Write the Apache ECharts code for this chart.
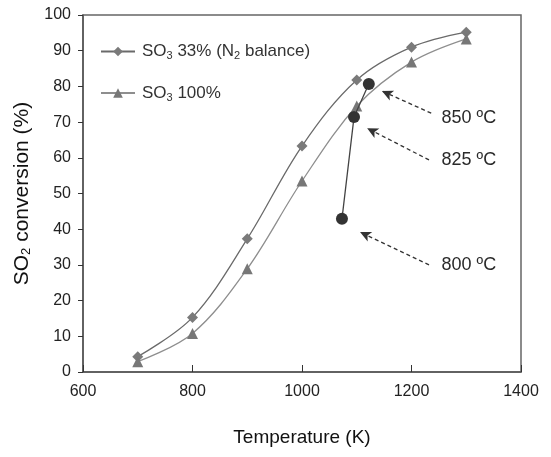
<!DOCTYPE html>
<html>
<head>
<meta charset="utf-8">
<script src="https://cdn.jsdelivr.net/npm/echarts@6/dist/echarts.min.js"></script>
<style>html,body{margin:0;padding:0;background:#fff;}#c{width:551px;height:457px;}</style>
</head>
<body>
<div id="c"></div>
<script>
// ---- data ----
const temps = [700, 800, 900, 1000, 1100, 1200, 1300];
const so3_33 = [4.3, 15.3, 37.3, 63.3, 81.8, 91.0, 95.2];
const so3_100 = [2.9, 10.8, 28.9, 53.5, 74.5, 86.8, 93.3];
const expTemps = [1073, 1095, 1122];
const expConv = [42.9, 71.4, 80.7];
const seriesNames = ['SO3 33% (N2 balance)', 'SO3 100%'];
const legendLabels = ['{n|SO}{s|3}{n| 33% (N}{s|2}{n| balance)}', '{n|SO}{s|3}{n| 100%}'];
const noteLabels = ['850 ºC', '825 ºC', '800 ºC'];
// arrow tail -> tip, in data units
const arrowTail = [[1236, 72.5], [1232, 59.4], [1232, 30.0]];
const arrowTip = [[1146, 78.7], [1119, 68.3], [1106, 39.2]];
const notePos = [[1254, 71.1], [1254, 59.4], [1254, 30.0]];
const xTicks = [600, 800, 1000, 1200, 1400];
const yTicks = [0, 10, 20, 30, 40, 50, 60, 70, 80, 90, 100];

const font = 'Liberation Sans, Arial, sans-serif';
const chart = echarts.init(document.getElementById('c'), null, {renderer: 'canvas'});
const zip = (a, b) => a.map((v, i) => [v, b[i]]);

chart.setOption({
  animation: false,
  backgroundColor: '#fff',
  textStyle: {fontFamily: font},
  grid: {left: 83, top: 15, right: 30, bottom: 85, show: true, borderColor: '#666', borderWidth: 1.5, backgroundColor: 'transparent'},
  legend: {
    data: seriesNames,
    orient: 'vertical',
    left: 100, top: 43, padding: 0,
    itemWidth: 34, itemHeight: 12, itemGap: 23,
    formatter: name => legendLabels[seriesNames.indexOf(name)],
    textStyle: {
      fontFamily: font, color: '#333', padding: [0, 0, 0, 2],
      rich: {
        n: {fontSize: 17, lineHeight: 20, color: '#333', fontFamily: font},
        s: {fontSize: 11, lineHeight: 20, color: '#333', fontFamily: font, verticalAlign: 'bottom', padding: [7, 0, 0, 0]}
      }
    }
  },
  xAxis: {
    type: 'value', min: xTicks[0], max: xTicks[xTicks.length - 1], interval: 200,
    name: 'Temperature (K)', nameLocation: 'middle', nameGap: 56,
    nameTextStyle: {fontSize: 19, color: '#111', fontFamily: font},
    axisLine: {show: true, lineStyle: {color: '#555', width: 1.5}},
    axisTick: {show: true, inside: true, length: 7, lineStyle: {color: '#333'}},
    axisLabel: {fontSize: 16, color: '#222', margin: 12, fontFamily: font, formatter: v => String(v)},
    splitLine: {show: false}
  },
  yAxis: {
    type: 'value', min: yTicks[0], max: yTicks[yTicks.length - 1], interval: 10,
    name: '{n|SO}{s|2}{n| conversion (%)}', nameLocation: 'middle', nameGap: 44, nameRotate: 90,
    nameTextStyle: {
      color: '#111',
      rich: {
        n: {fontSize: 21, color: '#111', fontFamily: font},
        s: {fontSize: 13, color: '#111', fontFamily: font, verticalAlign: 'bottom', padding: [10, 0, 0, 0]}
      }
    },
    axisLine: {show: true, lineStyle: {color: '#555', width: 1.5}},
    axisTick: {show: true, inside: false, length: 5, lineStyle: {color: '#333'}},
    axisLabel: {fontSize: 16, color: '#222', margin: 12, fontFamily: font, formatter: v => String(v)},
    splitLine: {show: false}
  },
  series: [
    {
      name: seriesNames[0], type: 'line', smooth: 0.35,
      data: zip(temps, so3_33),
      symbol: 'diamond', symbolSize: 11,
      lineStyle: {color: '#6a6a6a', width: 1.3},
      itemStyle: {color: '#7a7a7a'}, z: 3
    },
    {
      name: seriesNames[1], type: 'line', smooth: 0.35,
      data: zip(temps, so3_100),
      symbol: 'triangle', symbolSize: 11,
      lineStyle: {color: '#8e8e8e', width: 1.3},
      itemStyle: {color: '#777'}, z: 3
    },
    {
      name: 'exp', type: 'line', smooth: false,
      data: zip(expTemps, expConv),
      symbol: 'circle', symbolSize: 12,
      lineStyle: {color: '#444', width: 1.3},
      itemStyle: {color: '#333'}, z: 4,
      markLine: {
        silent: true, symbol: ['none', 'arrow'], symbolSize: [8, 11],
        label: {show: false},
        lineStyle: {color: '#333', width: 1.3, type: [4, 3]},
        data: arrowTail.map((t, i) => [{coord: t}, {coord: arrowTip[i]}])
      }
    },
    {
      name: 'notes', type: 'scatter',
      data: notePos.map((p, i) => ({value: p, name: noteLabels[i]})),
      symbolSize: 1, itemStyle: {color: 'rgba(0,0,0,0)', opacity: 1},
      label: {show: true, position: 'right', distance: 0, formatter: p => p.name,
        fontSize: 18, color: '#2a2a2a', opacity: 1, fontFamily: font},
      silent: true
    }
  ]
});
</script>
</body>
</html>
